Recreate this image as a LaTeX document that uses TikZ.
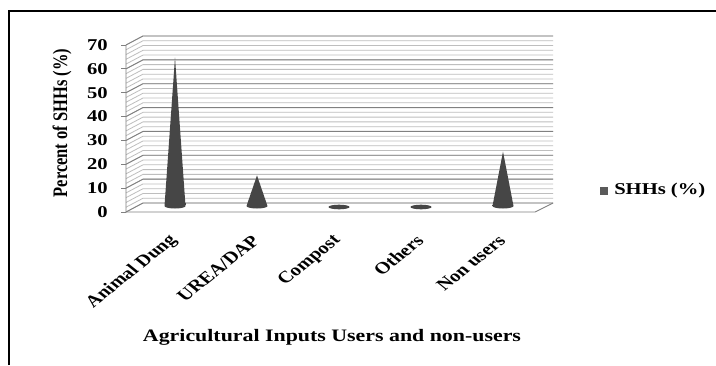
\documentclass[tikz,border=0pt]{standalone}
\usepackage{fontspec}
\setmainfont{Liberation Serif}
\definecolor{majorg}{RGB}{128,128,128}
\definecolor{minorg}{RGB}{190,190,190}
\definecolor{conedark}{RGB}{70,70,70}
\definecolor{conemid}{RGB}{150,150,150}
\definecolor{discg}{RGB}{70,70,70}
\definecolor{legendg}{RGB}{90,90,90}
\newcommand\stxt[4]{\begin{scope}[shift={#1},xscale=1.25]\node[transform shape,inner sep=0pt,font=\fontsize{16.5}{18}\selectfont\bfseries,#2] (#3) at (0,0) {#4};\end{scope}}
\tikzset{
  majorline/.style={majorg,line width=0.9pt},
  minorline/.style={minorg,line width=0.8pt},
  conefill/.style={left color=conedark,middle color=conemid,right color=conedark,shading angle=90},
  catlabel/.style={rotate=45,anchor=east},
}
\begin{document}
\begin{tikzpicture}[x=1pt,y=-1pt]
\useasboundingbox (0,0) rectangle (716,365);
\fill[white] (0,0) rectangle (716,365);
% frame
\draw[line width=2.2pt] (9,365) -- (9,11) -- (716,11);
% minor gridlines
\foreach \v in {0,2,...,70}{
  \pgfmathsetmacro\yb{203-\v*2.386}
  \pgfmathsetmacro\yf{212-\v*2.386}
  \draw[minorline] (126,\yf) -- (143,\yb) -- (553,\yb);
}
% major gridlines
\foreach \v in {0,10,...,70}{
  \pgfmathsetmacro\yb{203-\v*2.386}
  \pgfmathsetmacro\yf{212-\v*2.386}
  \draw[majorline] (126,\yf) -- (143,\yb) -- (553,\yb);
  \draw[majorline] (121,\yf) -- (126,\yf);
}
% floor and axis
\draw[majorline] (126,45) -- (126,212) -- (535,212) -- (553,203);
% cones
\foreach \cx/\val in {175/62.2,257/12.8,503/22.8}{
  \pgfmathsetmacro\yt{206-\val*2.386}
  \shade[conefill] (\cx-10.5,206) -- (\cx,\yt) -- (\cx+10.5,206)
     arc[start angle=0,end angle=180,x radius=10.5,y radius=2.5] -- cycle;
}
\fill[discg] (339,207) ellipse[x radius=10.5,y radius=2.3];
\fill[discg] (421,207) ellipse[x radius=10.5,y radius=2.3];
% tick labels
\foreach \v in {0,10,...,70}{
  \pgfmathsetmacro\yf{212-\v*2.386}
  \stxt{(108,\yf)}{anchor=east}{t\v}{\v}
}
% axis title
\stxt{(62,123)}{rotate=90}{ytitle}{Percent of SHHs (\%)}
% category labels
\stxt{(174,238)}{catlabel}{c1}{Animal Dung}
\stxt{(256,238)}{catlabel}{c2}{UREA/DAP}
\stxt{(338,238)}{catlabel}{c3}{Compost}
\stxt{(420,238)}{catlabel}{c4}{Others}
\stxt{(502,238)}{catlabel}{c5}{Non users}
% x title
\stxt{(332,337)}{font=\fontsize{17.5}{19}\selectfont\bfseries}{xtitle}{Agricultural Inputs Users and non-users}
% legend
\fill[legendg] (600,187) rectangle (608,195);
\stxt{(614,191)}{anchor=west}{leg}{SHHs (\%)}
\end{tikzpicture}
\end{document}
